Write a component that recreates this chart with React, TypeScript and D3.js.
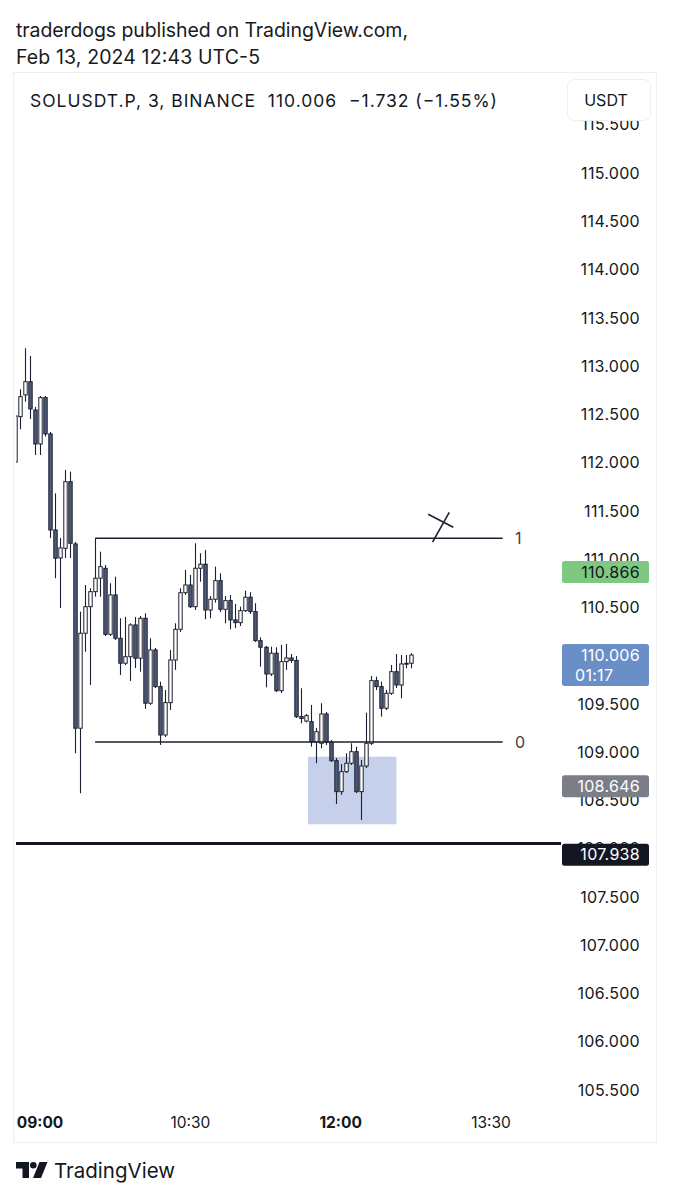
import React from "react";
import * as d3 from "d3";

// ---- DATA (3-minute candles, first candle 08:45) ----
const startMinute = 525; // 08:45
const stepMinutes = 3;
const opens = [112.006, 112.476, 112.701, 112.838, 112.545, 112.193, 112.673, 112.297, 111.302, 111.012, 111.112, 111.802, 111.157, 109.248, 110.232, 110.507, 110.663, 110.802, 110.905, 110.221, 110.629, 110.180, 109.921, 109.989, 110.318, 109.973, 110.387, 109.507, 110.059, 109.679, 109.178, 109.513, 109.955, 110.273, 110.652, 110.732, 110.507, 110.905, 110.947, 110.473, 110.584, 110.777, 110.480, 110.570, 110.370, 110.342, 110.466, 110.605, 110.456, 110.155, 110.087, 109.810, 110.025, 109.637, 109.938, 109.976, 109.950, 109.368, 109.322, 109.316, 109.106, 109.092, 109.396, 109.103, 108.912, 108.591, 108.798, 108.885, 109.005, 108.591, 108.857, 109.092, 109.741, 109.679, 109.455, 109.610, 109.834, 109.696, 109.914, 109.921];
const highs = [112.483, 112.760, 113.184, 113.105, 112.576, 112.690, 112.690, 112.317, 111.682, 111.219, 111.924, 111.906, 111.178, 110.456, 110.732, 110.698, 111.216, 111.077, 110.939, 110.750, 110.818, 110.387, 110.401, 110.335, 110.401, 110.411, 110.439, 110.180, 110.080, 109.730, 109.644, 110.059, 110.335, 110.698, 110.888, 110.836, 111.164, 111.061, 111.095, 110.618, 110.922, 110.853, 110.618, 110.629, 110.535, 110.507, 110.673, 110.657, 110.543, 110.190, 110.100, 110.093, 110.087, 110.111, 110.121, 110.017, 109.997, 109.662, 109.396, 109.489, 109.251, 109.507, 109.416, 109.126, 108.940, 108.878, 108.989, 109.092, 109.057, 108.919, 109.409, 109.789, 109.782, 109.730, 109.644, 109.903, 110.017, 110.007, 110.007, 110.025];
const lows = [112.006, 112.345, 112.631, 112.452, 112.079, 112.079, 112.269, 111.219, 110.802, 110.494, 111.012, 111.012, 108.989, 108.574, 110.041, 109.696, 110.611, 110.611, 110.204, 110.204, 110.162, 109.800, 109.903, 109.738, 109.872, 109.834, 109.448, 109.489, 109.665, 109.075, 109.157, 109.437, 109.852, 110.245, 110.629, 110.494, 110.473, 110.766, 110.377, 110.387, 110.549, 110.452, 110.335, 110.273, 110.284, 110.307, 110.452, 110.432, 110.142, 109.886, 109.672, 109.789, 109.624, 109.613, 109.852, 109.924, 109.354, 109.299, 109.308, 109.057, 108.885, 109.040, 109.075, 108.898, 108.463, 108.557, 108.785, 108.867, 108.577, 108.298, 108.836, 109.075, 109.644, 109.368, 109.437, 109.593, 109.665, 109.558, 109.869, 109.869];
const closes = [112.483, 112.683, 112.838, 112.556, 112.193, 112.673, 112.297, 111.302, 111.009, 111.116, 111.802, 111.164, 109.248, 110.232, 110.507, 110.663, 110.802, 110.922, 110.221, 110.629, 110.180, 109.921, 109.989, 110.318, 109.973, 110.387, 109.507, 110.059, 109.679, 109.178, 109.513, 109.955, 110.273, 110.652, 110.732, 110.507, 110.905, 110.947, 110.473, 110.584, 110.777, 110.480, 110.570, 110.370, 110.342, 110.466, 110.605, 110.456, 110.155, 110.087, 109.810, 110.025, 109.637, 109.938, 109.976, 109.950, 109.368, 109.349, 109.378, 109.106, 109.212, 109.396, 109.103, 108.912, 108.591, 108.798, 108.885, 109.005, 108.591, 108.857, 109.092, 109.741, 109.679, 109.455, 109.610, 109.834, 109.696, 109.914, 109.921, 110.006];

const priceTicks = [115.5, 115, 114.5, 114, 113.5, 113, 112.5, 112, 111.5, 111, 110.5, 110, 109.5, 109, 108.5, 108, 107.5, 107, 106.5, 106, 105.5];
const timeTickMinutes = [540, 630, 720, 810];
const timeTickLabels = ["09:00", "10:30", "12:00", "13:30"];
const timeTickBold = [true, false, true, false];

// drawings
const fibLevels = [111.216, 109.106];
const fibLabels = ["1", "0"];
const fibStartMinute = 573;
const fibEndMinute = 817;
const zoneMinutes = [700.4, 753.4];
const zonePrices = [108.953, 108.253];
const supportPrice = 108.054;
const crossA = [[775.0, 111.175], [785.0, 111.485]];
const crossB = [[772.4, 111.465], [787.4, 111.33]];

// price labels on the axis
const axisLabelPrices = [110.866, 110.006, 108.646, 107.938];
const axisLabelTexts = [["110.866"], ["110.006", "01:17"], ["108.646"], ["107.938"]];
const axisLabelFills = ["#7ec882", "#6a8fc6", "#7b7e89", "#131722"];
const axisLabelTextColors = ["#131722", "#ffffff", "#ffffff", "#ffffff"];

const FONT = "Inter, 'Noto Sans', Roboto, sans-serif";

export default function App() {
  const x = d3.scaleLinear().domain([540, 810]).range([40, 491]);
  const y = d3.scaleLinear().domain([105.5, 115]).range([1090, 173]);

  const candles = opens.map((o, i) => ({
    t: startMinute + i * stepMinutes,
    o,
    h: highs[i],
    l: lows[i],
    c: closes[i],
  }));

  const bodyW = 3.4;

  return (
    <svg width={673} height={1200} style={{ display: "block", position: "absolute", left: 0, top: 0, background: "#fff" }} fontFamily={FONT}>
      <defs>
        <clipPath id="plotClip">
          <rect x={16} y={121} width={545} height={980} />
        </clipPath>
        <clipPath id="paneClip">
          <rect x={13} y={121} width={644} height={980} />
        </clipPath>
      </defs>
      <rect x={0} y={0} width={673} height={1200} fill="#ffffff" />

      {/* header */}
      <text x={16} y={37} fontSize={19.5} fill="#1a1a1a" textLength={392} lengthAdjust="spacing">
        traderdogs published on TradingView.com,
      </text>
      <text x={16} y={64} fontSize={19.5} fill="#1a1a1a" textLength={244} lengthAdjust="spacing">
        Feb 13, 2024 12:43 UTC-5
      </text>

      {/* panel border */}
      <rect x={13.5} y={72.5} width={643} height={1070} fill="none" stroke="#eceef2" strokeWidth={1} />

      {/* legend */}
      <text x={30} y={107} fontSize={17.5} fill="#131722" textLength={467} lengthAdjust="spacing" style={{ whiteSpace: "pre" }} xmlSpace="preserve">
        {"SOLUSDT.P, 3, BINANCE  110.006  \u22121.732 (\u22121.55%)"}
      </text>
      <rect x={567.5} y={79.5} width={83} height={41} rx={7} fill="#fff" stroke="#eceef2" />
      <text x={606} y={106} fontSize={16} fill="#131722" textAnchor="middle">USDT</text>

      <g clipPath="url(#paneClip)">
        {/* price axis tick labels */}
        {priceTicks.map((p) => (
          <text key={p} x={640} y={y(p)} dy="0.36em" fontSize={16} fill="#131722" textAnchor="end" letterSpacing={0.3}>
            {p.toFixed(3)}
          </text>
        ))}

        <g clipPath="url(#plotClip)">
          {/* zone */}
          <rect
            x={x(zoneMinutes[0])}
            y={y(zonePrices[0])}
            width={x(zoneMinutes[1]) - x(zoneMinutes[0])}
            height={y(zonePrices[1]) - y(zonePrices[0])}
            fill="#c7d0ea"
          />

          {/* candles */}
          {candles.map((d, i) => {
            const cx = Math.round(x(d.t)) + 0.5;
            const up = d.c >= d.o;
            const top = y(Math.max(d.o, d.c));
            const bot = y(Math.min(d.o, d.c));
            return (
              <g key={i}>
                <line x1={cx} x2={cx} y1={y(d.h)} y2={y(d.l)} stroke="#1c2030" strokeWidth={1.1} />
                <rect
                  x={cx - bodyW / 2}
                  y={top}
                  width={bodyW}
                  height={Math.max(bot - top, 1)}
                  fill={up ? "#ffffff" : "#4d5a78"}
                  stroke="#1c2030"
                  strokeWidth={1}
                />
              </g>
            );
          })}

          {/* fib lines */}
          {fibLevels.map((p, i) => (
            <line key={i} x1={x(fibStartMinute)} x2={x(fibEndMinute)} y1={y(p)} y2={y(p)} stroke="#1c2030" strokeWidth={1.5} />
          ))}

          {/* cross mark */}
          <line x1={x(crossA[0][0])} y1={y(crossA[0][1])} x2={x(crossA[1][0])} y2={y(crossA[1][1])} stroke="#1c2030" strokeWidth={1.6} />
          <line x1={x(crossB[0][0])} y1={y(crossB[0][1])} x2={x(crossB[1][0])} y2={y(crossB[1][1])} stroke="#1c2030" strokeWidth={1.6} />

          {/* support line */}
          <line x1={13} x2={562} y1={y(supportPrice)} y2={y(supportPrice)} stroke="#131722" strokeWidth={3} />
        </g>

        {fibLevels.map((p, i) => (
          <text key={i} x={515} y={y(p)} dy="0.36em" fontSize={16} fill="#3a3d48">
            {fibLabels[i]}
          </text>
        ))}

        {/* axis price labels */}
        {axisLabelPrices.map((p, i) => {
          const lines = axisLabelTexts[i];
          const yc = y(p);
          const h = lines.length === 1 ? 22 : 42;
          const top = yc - 11;
          return (
            <g key={i}>
              <rect x={562} y={top} width={87} height={h} rx={2.5} fill={axisLabelFills[i]} />
              {lines.map((s, k) =>
                k === 0 ? (
                  <text key={k} x={640} y={yc} dy="0.36em" fontSize={16} fill={axisLabelTextColors[i]} textAnchor="end" letterSpacing={0.3}>
                    {s}
                  </text>
                ) : (
                  <text key={k} x={575} y={yc + k * 20} dy="0.36em" fontSize={16} fill={axisLabelTextColors[i]} textAnchor="start" letterSpacing={0.3}>
                    {s}
                  </text>
                )
              )}
            </g>
          );
        })}
      </g>

      {/* time axis */}
      {timeTickMinutes.map((t, i) => (
        <text key={t} x={x(t)} y={1128} fontSize={15.5} fontWeight={timeTickBold[i] ? 700 : 400} fill="#131722" textAnchor="middle">
          {timeTickLabels[i]}
        </text>
      ))}

      {/* footer logo */}
      <g fill="#131722">
        <path d="M16,1162 H29 V1178 H22.5 V1168.5 H16 Z" />
        <circle cx={33.3} cy={1165.3} r={3.3} />
        <path d="M39.5,1162 H47.5 L41,1178 H33 Z" />
      </g>
      <text x={54} y={1178} fontSize={20.5} fill="#131722" textLength={121} lengthAdjust="spacing">TradingView</text>
    </svg>
  );
}
